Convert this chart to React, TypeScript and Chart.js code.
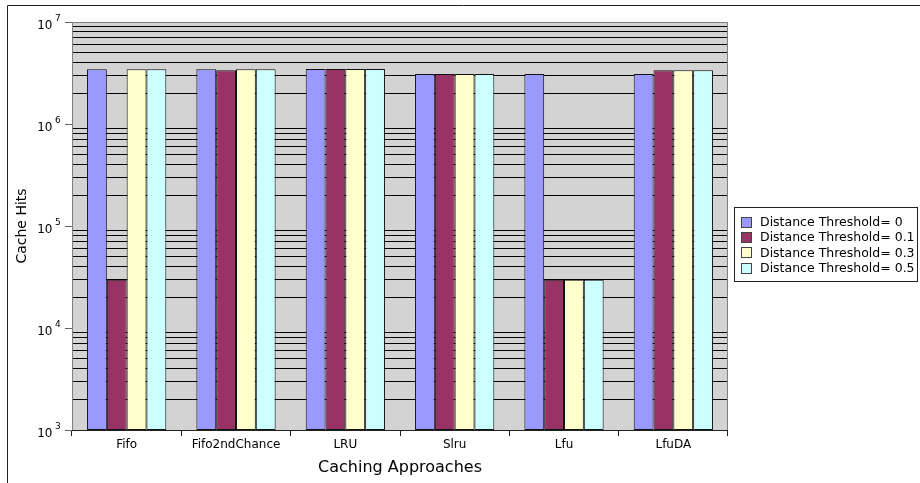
import React, { useEffect, useRef } from "react";
import { Chart, registerables } from "chart.js";

Chart.register(...registerables);

const categories = ["Fifo", "Fifo2ndChance", "LRU", "Slru", "Lfu", "LfuDA"];
const seriesLabels = [
  "Distance Threshold= 0",
  "Distance Threshold= 0.1",
  "Distance Threshold= 0.3",
  "Distance Threshold= 0.5",
];
const threshold0 = [3440000, 3440000, 3460000, 3090000, 3090000, 3090000];
const threshold01 = [29700, 3360000, 3460000, 3090000, 29700, 3360000];
const threshold03 = [3440000, 3440000, 3460000, 3090000, 29700, 3360000];
const threshold05 = [3440000, 3440000, 3460000, 3090000, 29700, 3360000];
const seriesColors = ["#9999ff", "#993366", "#ffffcc", "#ccffff"];
const decadeExponents = [3, 4, 5, 6, 7];
const minorMultipliers = [1, 2, 3, 4, 5, 6, 7, 8, 9];
const yTitle = "Cache Hits";
const xTitle = "Caching Approaches";

const FONT = "'DejaVu Sans', sans-serif";

const isDecade = (v: number) => {
  if (!v) return false;
  const l = Math.log10(v);
  return Math.abs(l - Math.round(l)) < 1e-9;
};

const tickValues: number[] = [];
decadeExponents.forEach((e, i) => {
  if (i === decadeExponents.length - 1) {
    tickValues.push(Math.pow(10, e));
  } else {
    minorMultipliers.forEach((m) => tickValues.push(m * Math.pow(10, e)));
  }
});

const decorPlugin = {
  id: "decor",
  beforeDraw(chart: any) {
    const { ctx, chartArea } = chart;
    const { left, top, right, bottom } = chartArea;
    ctx.save();
    ctx.strokeStyle = "#222";
    ctx.lineWidth = 1;
    ctx.beginPath();
    ctx.moveTo(7.5, 483);
    ctx.lineTo(7.5, 5.5);
    ctx.lineTo(920, 5.5);
    ctx.stroke();
    ctx.fillStyle = "#d3d3d3";
    ctx.fillRect(left, top, right - left, bottom - top);
    ctx.restore();
  },
  afterDraw(chart: any) {
    const { ctx, chartArea, scales } = chart;
    const { left, top, right, bottom } = chartArea;
    ctx.save();
    ctx.lineWidth = 1;
    ctx.strokeStyle = "#808080";
    ctx.beginPath();
    ctx.moveTo(Math.round(left) + 0.5, Math.round(bottom));
    ctx.lineTo(Math.round(left) + 0.5, Math.round(top) + 0.5);
    ctx.lineTo(Math.round(right) - 0.5, Math.round(top) + 0.5);
    ctx.lineTo(Math.round(right) - 0.5, Math.round(bottom));
    ctx.stroke();
    ctx.strokeStyle = "#222";
    ctx.beginPath();
    ctx.moveTo(Math.round(left), Math.round(bottom) + 0.5);
    ctx.lineTo(Math.round(right), Math.round(bottom) + 0.5);
    ctx.stroke();

    const y = scales.y;
    decadeExponents.forEach((e) => {
      const py = Math.round(y.getPixelForValue(Math.pow(10, e))) + 0.5;
      ctx.strokeStyle = "#666";
      ctx.beginPath();
      ctx.moveTo(left - 7, py);
      ctx.lineTo(left, py);
      ctx.stroke();
      ctx.fillStyle = "#000";
      ctx.font = `12px ${FONT}`;
      ctx.textAlign = "right";
      ctx.textBaseline = "middle";
      ctx.fillText("10", left - 19.5, py + 3);
      ctx.font = `9px ${FONT}`;
      ctx.textAlign = "left";
      ctx.fillText(String(e), left - 17, py - 4);
    });

    const lx = 734.5, ly = 207.5, lw = 183, lh = 74;
    ctx.fillStyle = "#fff";
    ctx.fillRect(lx, ly, lw, lh);
    ctx.strokeStyle = "#222";
    ctx.strokeRect(lx, ly, lw, lh);
    chart.data.datasets.forEach((ds: any, i: number) => {
      const cy = 222.5 + i * 15.2;
      ctx.fillStyle = ds.backgroundColor;
      ctx.fillRect(741, Math.round(cy - 5.5), 11, 11);
      ctx.strokeStyle = "#444";
      ctx.strokeRect(741.5, Math.round(cy - 5.5) + 0.5, 10, 10);
      ctx.fillStyle = "#000";
      ctx.font = `12.5px ${FONT}`;
      ctx.textAlign = "left";
      ctx.textBaseline = "middle";
      ctx.fillText(ds.label, 760, cy + 0.5);
    });
    ctx.restore();
  },
};

export default function App() {
  const ref = useRef<HTMLCanvasElement | null>(null);
  useEffect(() => {
    if (!ref.current) return;
    const allSeries = [threshold0, threshold01, threshold03, threshold05];
    const chart = new Chart(ref.current, {
      type: "bar",
      data: {
        labels: categories,
        datasets: allSeries.map((d, i) => ({
          label: seriesLabels[i],
          data: d,
          backgroundColor: seriesColors[i],
          borderColor: "#111",
          borderWidth: 1,
          borderSkipped: false,
          categoryPercentage: 0.725,
          barPercentage: 1.0,
        })),
      },
      options: {
        animation: false,
        responsive: false,
        devicePixelRatio: 1,
        layout: { padding: { left: 10, right: 192, top: 22, bottom: 0 } },
        plugins: {
          legend: { display: false },
          tooltip: { enabled: false },
        },
        scales: {
          x: {
            offset: true,
            grid: {
              offset: true,
              drawOnChartArea: false,
              drawTicks: true,
              tickLength: 6,
              tickColor: "#222",
              lineWidth: 1,
            },
            border: { display: false },
            ticks: {
              color: "#000",
              padding: 2,
              font: { family: FONT, size: 12 },
              maxRotation: 0,
              autoSkip: false,
            },
            title: {
              display: true,
              text: xTitle,
              color: "#000",
              font: { family: FONT, size: 16 },
              padding: { top: 0, bottom: 6 },
            },
            afterFit: (scale: any) => {
              scale.height = 53;
            },
          },
          y: {
            type: "logarithmic",
            min: 1000,
            max: 10000000,
            afterBuildTicks: (scale: any) => {
              scale.ticks = tickValues.map((v) => ({ value: v, major: isDecade(v) }));
            },
            grid: {
              color: (c: any) => (isDecade(c.tick?.value) ? "rgba(0,0,0,0)" : "#000"),
              lineWidth: 1,
              drawTicks: false,
            },
            border: { display: false },
            ticks: { display: false },
            title: {
              display: true,
              text: yTitle,
              color: "#000",
              font: { family: FONT, size: 14 },
              padding: { top: 4, bottom: 0 },
            },
            afterFit: (scale: any) => {
              scale.width = 62;
            },
          },
        },
      },
      plugins: [decorPlugin],
    });
    return () => chart.destroy();
  }, []);
  return (
    <canvas
      ref={ref}
      width={920}
      height={483}
      style={{ position: "absolute", left: 0, top: 0, width: 920, height: 483 }}
    />
  );
}
